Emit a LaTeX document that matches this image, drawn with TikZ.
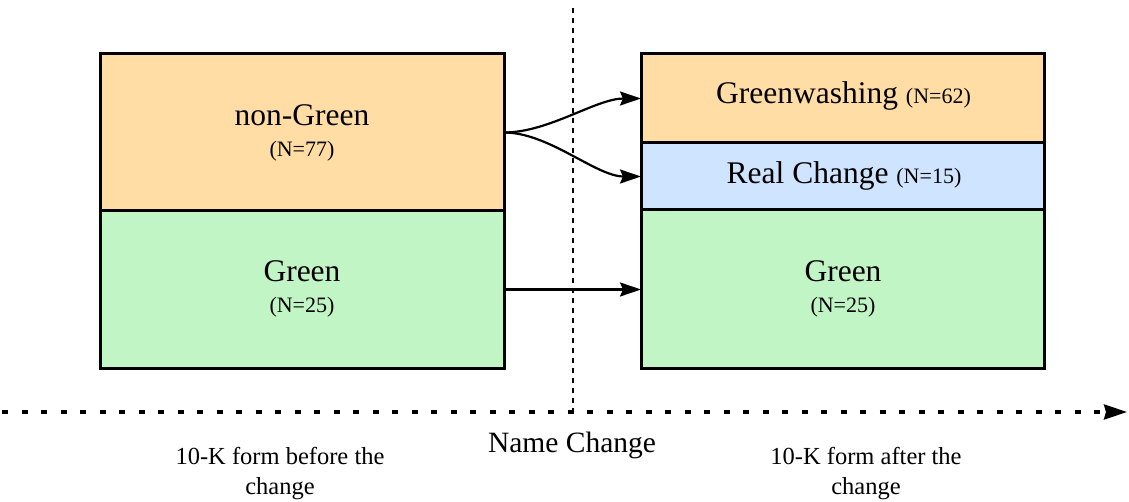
\documentclass[tikz,border=0pt]{standalone}
\usepackage{fontspec}
\setmainfont{Liberation Serif}
\usetikzlibrary{arrows.meta}
\definecolor{orangefill}{HTML}{FFDDA5}
\definecolor{greenfill}{HTML}{C2F5C5}
\definecolor{bluefill}{HTML}{CFE4FF}
\tikzset{
  box/.style={draw=black, line width=3pt, inner sep=0pt, outer sep=0pt},
  bigtxt/.style={font=\fontsize{31.5}{36}\selectfont, inner sep=0pt, anchor=base},
  smalltxt/.style={font=\fontsize{22}{26}\selectfont, inner sep=0pt, anchor=base},
  captxt/.style={font=\fontsize{24.5}{29.5}\selectfont, inner sep=0pt, align=center, anchor=base},
  conn/.style={draw=black, line width=2.2pt, -{Stealth[length=21pt, width=14pt, inset=3pt]}},
}
\begin{document}
\begin{tikzpicture}[x=1pt, y=-1pt]
\useasboundingbox (0,0) rectangle (1129,502);
% left boxes
\node[box, fill=orangefill, minimum width=404pt, minimum height=157pt] (ng) at (302,132.5) {};
\node[box, fill=greenfill, minimum width=404pt, minimum height=157pt] (gl) at (302,289.5) {};
% right boxes
\node[box, fill=orangefill, minimum width=403pt, minimum height=89pt] (gw) at (842.5,98.5) {};
\node[box, fill=bluefill, minimum width=403pt, minimum height=67pt] (rc) at (842.5,176.5) {};
\node[box, fill=greenfill, minimum width=403pt, minimum height=158pt] (gr) at (842.5,289) {};
% labels
\node[bigtxt] (ngt) at (302,126) {non-Green};
\node[smalltxt] (ngn) at (302,157) {(N=77)};
\node[bigtxt] (glt) at (302,282) {Green};
\node[smalltxt] (gln) at (302,313) {(N=25)};
\node[bigtxt] (gwt) at (843.5,104) {Greenwashing {\fontsize{22}{26}\selectfont (N=62)}};
\node[bigtxt] (rct) at (844,184) {Real Change {\fontsize{22}{26}\selectfont (N=15)}};
\node[bigtxt] (grt) at (843,282) {Green};
\node[smalltxt] (grn) at (843,313) {(N=25)};
% connectors
\draw[conn] (ng.east) .. controls +(45,0) and +(-45,0) .. (gw.west);
\draw[conn] (ng.east) .. controls +(45,0) and +(-45,0) .. (rc.west);
\draw[conn] (gl.east) -- (gl.east -| gr.west);
% axis lines
\coordinate (vtop) at (573,8);
\coordinate (vbot) at (573,412);
\coordinate (hleft) at (2,412);
\coordinate (hright) at (1127,412);
\draw[line width=2pt, dash pattern=on 5pt off 5pt] (vtop) -- (vbot);
\draw[line width=3.2pt, dash pattern=on 6pt off 13.5pt, -{Stealth[length=23pt, width=15pt, inset=2pt]}] (hleft) -- (hright);
% captions
\node[font=\fontsize{29.5}{34}\selectfont, inner sep=0pt, anchor=base] (nc) at (572,452) {Name Change};
\node[captxt] (before) at (280,494) {10-K form before the\\change};
\node[captxt] (after) at (866,494) {10-K form after the\\change};
\end{tikzpicture}
\end{document}
